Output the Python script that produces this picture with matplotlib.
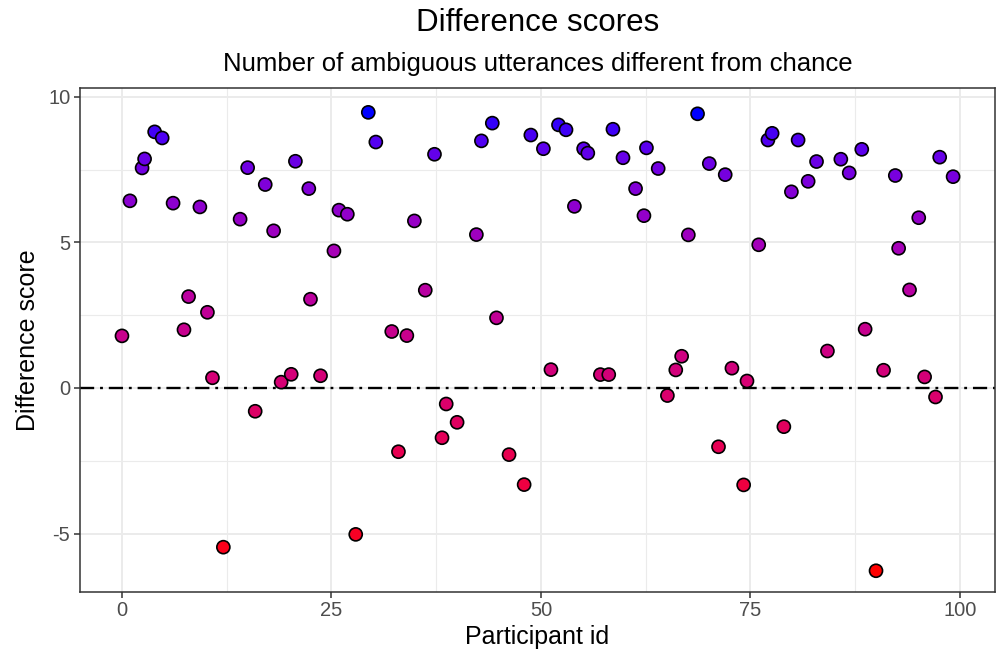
import numpy as np
import matplotlib
matplotlib.use("Agg")
import matplotlib.pyplot as plt
from matplotlib.colors import ListedColormap

participant_id = [
    0.0, 0.95, 2.4, 2.7, 3.9, 4.8, 6.1, 7.4, 7.95, 9.3,
    10.2, 10.8, 12.1, 14.1, 15.0, 15.9, 17.1, 18.1, 19.0, 20.2,
    20.7, 22.3, 22.5, 23.7, 25.3, 25.9, 26.9, 27.9, 29.4, 30.3,
    32.2, 33.0, 34.0, 34.9, 36.2, 37.3, 38.2, 38.7, 40.0, 42.3,
    42.9, 44.2, 44.7, 46.2, 48.0, 48.8, 50.3, 51.2, 52.1, 53.0,
    54.0, 55.1, 55.6, 57.1, 58.1, 58.6, 59.8, 61.3, 62.3, 62.6,
    64.0, 65.1, 66.1, 66.8, 67.6, 68.7, 70.1, 71.2, 72.0, 72.8,
    74.2, 74.6, 76.0, 77.1, 77.6, 79.0, 79.9, 80.7, 81.9, 82.9,
    84.2, 85.8, 86.8, 88.3, 88.7, 90.0, 90.9, 92.3, 92.7, 94.0,
    95.1, 95.8, 97.1, 97.6, 99.2,
]
difference = [
    1.79, 6.43, 7.56, 7.87, 8.80, 8.59, 6.35, 2.00, 3.14, 6.22,
    2.60, 0.35, -5.47, 5.80, 7.57, -0.80, 6.99, 5.40, 0.20, 0.47,
    7.79, 6.85, 3.05, 0.42, 4.71, 6.11, 5.97, -5.03, 9.47, 8.45,
    1.94, -2.19, 1.80, 5.74, 3.36, 8.03, -1.71, -0.55, -1.18, 5.27,
    8.49, 9.10, 2.41, -2.29, -3.32, 8.69, 8.22, 0.63, 9.04, 8.87,
    6.24, 8.22, 8.07, 0.46, 0.46, 8.89, 7.91, 6.85, 5.92, 8.25,
    7.54, -0.26, 0.62, 1.09, 5.26, 9.42, 7.71, -2.02, 7.33, 0.68,
    -3.33, 0.24, 4.92, 8.52, 8.75, -1.33, 6.74, 8.52, 7.10, 7.78,
    1.27, 7.86, 7.39, 8.20, 2.02, -6.28, 0.61, 7.30, 4.80, 3.37,
    5.85, 0.38, -0.31, 7.93, 7.26,
]


# red -> blue gradient interpolated in Lab space (like ggplot)
def srgb_to_lab(rgb):
    c = np.asarray(rgb, float)
    lin = np.where(c <= 0.04045, c / 12.92, ((c + 0.055) / 1.055) ** 2.4)
    m = np.array([[0.4124, 0.3576, 0.1805],
                  [0.2126, 0.7152, 0.0722],
                  [0.0193, 0.1192, 0.9505]])
    xyz = m @ lin / np.array([0.95047, 1.0, 1.08883])
    f = np.where(xyz > 0.008856, np.cbrt(xyz), 7.787 * xyz + 16 / 116)
    return np.array([116 * f[1] - 16, 500 * (f[0] - f[1]), 200 * (f[1] - f[2])])


def lab_to_srgb(lab):
    L, a, b = lab
    fy = (L + 16) / 116
    fx = fy + a / 500
    fz = fy - b / 200
    f = np.array([fx, fy, fz])
    xyz = np.where(f ** 3 > 0.008856, f ** 3, (f - 16 / 116) / 7.787)
    xyz = xyz * np.array([0.95047, 1.0, 1.08883])
    m = np.array([[3.2406, -1.5372, -0.4986],
                  [-0.9689, 1.8758, 0.0415],
                  [0.0557, -0.2040, 1.0570]])
    lin = np.clip(m @ xyz, 0, 1)
    c = np.where(lin <= 0.0031308, 12.92 * lin, 1.055 * lin ** (1 / 2.4) - 0.055)
    return np.clip(c, 0, 1)


lab_lo = srgb_to_lab([1, 0, 0])
lab_hi = srgb_to_lab([0, 0, 1])
cmap = ListedColormap([lab_to_srgb(lab_lo + t * (lab_hi - lab_lo))
                       for t in np.linspace(0, 1, 256)])

plt.rcParams["font.family"] = ["Liberation Sans", "DejaVu Sans"]
plt.rcParams["axes.unicode_minus"] = False

fig = plt.figure(figsize=(10.01, 6.56), dpi=100)
ax = fig.add_axes([0.080, 0.098, 0.914, 0.768])

ax.axhline(0, color="black", linewidth=1.7, linestyle=(0, (6, 2.5, 1.2, 2.5)), zorder=2)
ax.scatter(participant_id, difference, c=difference, cmap=cmap, s=88,
           edgecolors="black", linewidths=1.2, zorder=3)

ax.set_xlim(-5.0, 104.2)
ax.set_ylim(-7.0, 10.31)
ax.set_xticks([0, 25, 50, 75, 100])
ax.set_yticks([-5, 0, 5, 10])
ax.set_xticks([12.5, 37.5, 62.5, 87.5], minor=True)
ax.set_yticks([-2.5, 2.5, 7.5], minor=True)
ax.grid(True, which="major", color="#EBEBEB", linewidth=1.4, zorder=0)
ax.grid(True, which="minor", color="#EBEBEB", linewidth=0.8, zorder=0)
ax.set_axisbelow(True)
ax.tick_params(which="minor", length=0)
ax.tick_params(which="major", length=4, width=1.1, color="#333333",
               labelsize=14.5, labelcolor="#4D4D4D", pad=3)
for s in ax.spines.values():
    s.set_color("#333333")
    s.set_linewidth(1.1)

ax.set_xlabel("Participant id", fontsize=18, labelpad=3)
ax.set_ylabel("Difference score", fontsize=18, labelpad=6)

fig.text(0.537, 0.965, "Difference scores", ha="center", va="center", fontsize=22.5)
fig.text(0.537, 0.903, "Number of ambiguous utterances different from chance",
         ha="center", va="center", fontsize=18.5)

plt.savefig("out.png", dpi=100)
plt.close()
